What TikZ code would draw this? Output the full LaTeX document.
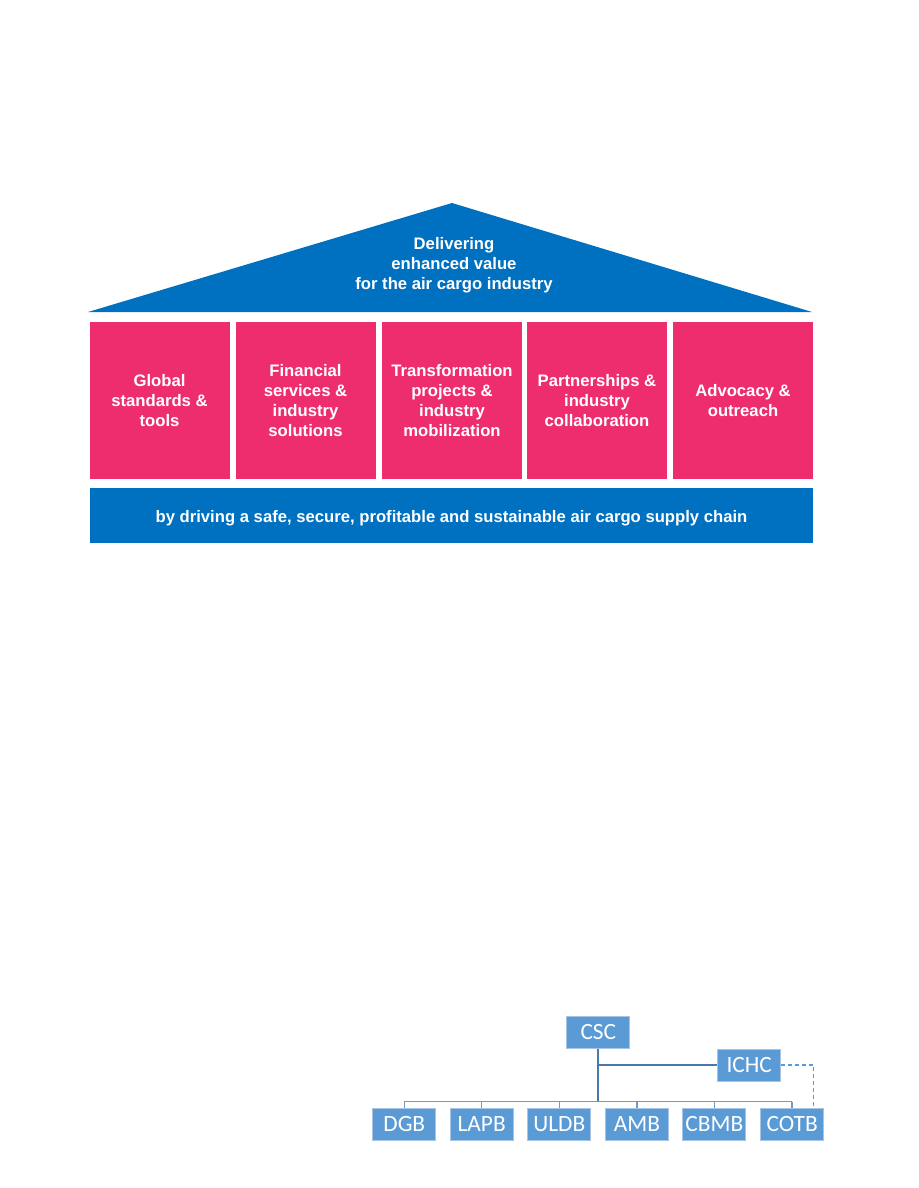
\documentclass[tikz,border=0pt]{standalone}
\usepackage{fontspec}
\setmainfont{Liberation Sans}
\newfontfamily\orgfont{Carlito}
\usetikzlibrary{calc}
\definecolor{roofblue}{HTML}{0070C0}
\definecolor{pillarpink}{HTML}{EE2D6F}
\definecolor{orgblue}{HTML}{5B9BD5}
\definecolor{orgedge}{HTML}{A7C4E6}
\definecolor{trunkblue}{HTML}{4A78AA}
\definecolor{busblue}{HTML}{7498C2}
\tikzset{
  pillar/.style={fill=pillarpink, minimum width=105pt, minimum height=117.75pt,
    inner sep=0pt, text=white, align=center, font=\bfseries\fontsize{12.5}{15}\selectfont},
  orgbox/.style={fill=orgblue, draw=orgedge, line width=0.6pt, minimum width=47.25pt,
    minimum height=24pt, inner sep=0pt, text height=11pt, text depth=0pt,
    text=white, font=\orgfont\fontsize{17.5}{17.5}\selectfont},
  trunk/.style={trunkblue, line width=1.5pt},
  busline/.style={busblue, line width=1.1pt},
  dashline/.style={orgblue, line width=1pt, dash pattern=on 3pt off 2.2pt}
}
\newcommand{\pillarbox}[3]{%
  \node[pillar] (#1) at (#2,400.5) {#3};
}
\newcommand{\boardbox}[3]{%
  \node[orgbox] (#1) at (#2,1124) {#3};
  \draw[busline] (bus -| #1.north) -- (#1.north);
}

\begin{document}
\begin{tikzpicture}[x=0.75pt, y=-0.75pt]
  \useasboundingbox (0,0) rectangle (918,1188);

  % ---------- Roof ----------
  \fill[roofblue] (88,312) -- (452,203) -- (812,312) -- cycle;
  \node[text=white, align=center, font=\bfseries\fontsize{12.5}{15}\selectfont] (roof) at (454,265)
    {Delivering\\ enhanced value\\ for the air cargo industry};

  % ---------- Pillars ----------
  \pillarbox{standards}{159.5}{Global\\ standards \&\\ tools}
  \pillarbox{financial}{305.5}{Financial\\ services \&\\ industry\\ solutions}
  \pillarbox{transform}{452}{Transformation\\ projects \&\\ industry\\ mobilization}
  \pillarbox{partners}{597}{Partnerships \&\\ industry\\ collaboration}
  \pillarbox{advocacy}{743}{Advocacy \&\\ outreach}

  % ---------- Foundation ----------
  \node[fill=roofblue, minimum width=542.25pt, minimum height=41.25pt, inner sep=0pt,
    text=white, font=\bfseries\fontsize{12.5}{15}\selectfont] (base) at (451.5,515.5) {};
  \node[text=white, font=\bfseries\fontsize{12.5}{15}\selectfont] (basetext) at (451.5,518.5)
    {by driving a safe, secure, profitable and sustainable air cargo supply chain};

  % ---------- Org chart ----------
  \node[orgbox] (csc) at (598.3,1032.2) {CSC};
  \node[orgbox] (ichc) at (749.2,1064.9) {ICHC};
  \coordinate (bus) at (598.3,1101.5);
  \draw[trunk] (csc.south) -- (bus);
  \draw[line width=1.2pt, trunkblue] (csc.south |- ichc.west) -- (ichc.west);

  \boardbox{dgb}{404.3}{DGB}
  \boardbox{lapb}{481.7}{LAPB}
  \boardbox{uldb}{559.3}{ULDB}
  \boardbox{amb}{637}{AMB}
  \boardbox{cbmb}{714.3}{CBMB}
  \boardbox{cotb}{792.2}{COTB}
  \draw[busline] (bus -| dgb.north) -- (bus -| cotb.north);

  \draw[dashline] (ichc.east) -| ([xshift=15.8pt]cotb.north);
\end{tikzpicture}
\end{document}
